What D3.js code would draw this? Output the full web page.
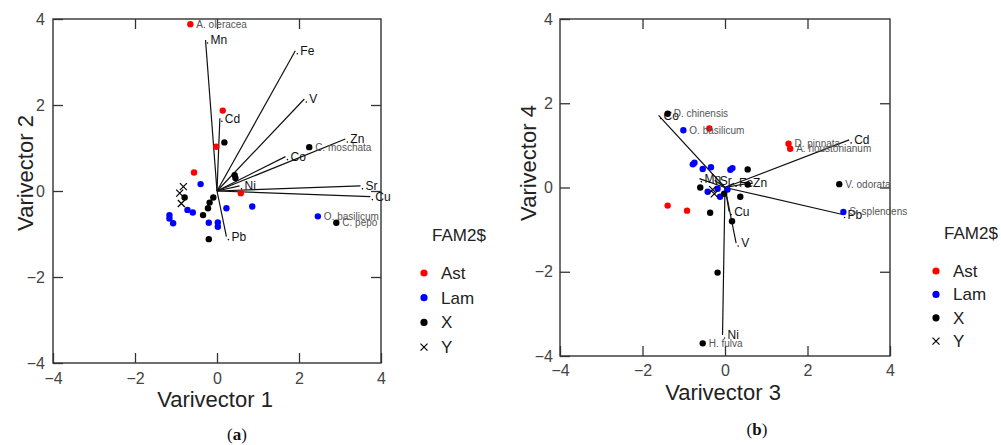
<!DOCTYPE html>
<html lang="en">
<head>
<meta charset="UTF-8">
<title>Varivector biplots</title>
<script src="https://d3js.org/d3.v7.min.js"></script>
<style>
  body { margin: 0; background: #fff; }
  svg { display: block; font-family: "Liberation Sans", Arial, sans-serif; }
  .tick text { font-size: 16px; fill: #444; }
  .tick line { stroke: #333; stroke-width: 1.3px; }
  .frame { fill: none; stroke: #333; stroke-width: 1.4px; }
  .vec { stroke: #111; stroke-width: 1.2px; }
  .vlabel { font-size: 12px; fill: #111; }
  .plabel { font-size: 10px; fill: #555; }
  .title { font-size: 22px; fill: #222; }
  .legend text { font-size: 17px; fill: #222; }
</style>
</head>
<body>
<svg width="1001" height="445"></svg>
<script>
const tickValues = [-4, -2, 0, 2, 4];
const innerTicks = [-2, 0, 2];
const groups = ["Ast", "Lam", "X", "Y"];
const groupColors = ["#ff0000", "#0000ff", "#000000", "#000000"];
const elements = ["Mn", "Fe", "V", "Zn", "Co", "Sr", "Cu", "Cd", "Ni", "Pb"];

// panel (a): varivector 1 / 2 loadings
const vv1 = [-0.28, 1.91, 2.13, 3.13, 1.67, 3.50, 3.74, 0.07, 0.55, 0.23];
const vv2 = [3.51, 3.26, 2.14, 1.21, 0.80, 0.12, -0.13, 1.69, 0.12, -1.06];

// panel (a) scores: [x, y, label]
const astA = [[-0.65, 3.88, "A. oleracea"], [0.14, 1.87], [-0.02, 1.03], [-0.56, 0.43], [0.58, -0.05]];
const lamA = [[-0.40, 0.16], [0.23, -0.40], [0.86, -0.36], [-0.72, -0.44], [-0.59, -0.50],
  [-1.16, -0.56], [-1.16, -0.64], [-1.07, -0.75], [-0.20, -0.74], [0.02, -0.73],
  [0.02, -0.83], [2.46, -0.59, "O. basilicum"]];
const xA = [[0.18, 1.13], [2.25, 1.02, "C. moschata"], [0.43, 0.37], [0.45, 0.30], [-0.79, -0.15],
  [-0.09, -0.15], [-0.18, -0.27], [-0.22, -0.40], [-0.34, -0.56], [-0.20, -1.12],
  [2.91, -0.74, "C. pepo"]];
const yA = [[-0.82, 0.10], [-0.91, -0.05], [-0.87, -0.29]];

// panel (b): varivector 3 / 4 loadings
const vv3 = [-0.62, 0.22, 0.27, 0.56, -1.61, -0.25, 0.10, 3.01, -0.06, 2.85];
const vv4 = [0.21, 0.10, -1.32, 0.10, 1.71, 0.17, -0.57, 1.13, -3.50, -0.64];

const astB = [[-0.38, 1.40], [1.54, 1.04, "D. pinnata"], [1.58, 0.92, "A. houstonianum"],
  [-1.39, -0.43], [-0.92, -0.55]];
const lamB = [[-1.01, 1.36, "O. basilicum"], [-0.78, 0.55], [-0.74, 0.59], [-0.54, 0.44],
  [-0.34, 0.48], [0.13, 0.42], [0.18, 0.46], [-0.42, -0.10], [-0.18, -0.03], [0.06, -0.05],
  [-0.12, -0.22], [2.87, -0.58, "S. splendens"]];
const xB = [[-1.39, 1.75, "D. chinensis"], [0.55, 0.43], [2.77, 0.08, "V. odorata"], [0.55, 0.07],
  [-0.60, 0.00], [-0.02, -0.15], [0.37, -0.22], [-0.36, -0.60], [0.17, -0.80], [-0.18, -2.02],
  [-0.54, -3.70, "H. fulva"]];
const yB = [[-0.30, -0.05], [-0.26, -0.15]];

const svg = d3.select("svg");

function cross(sel, s) {
  sel.append("path")
    .attr("d", `M${-s},${-s}L${s},${s}M${-s},${s}L${s},${-s}`)
    .attr("stroke", "#000").attr("stroke-width", 1.2).attr("fill", "none");
}

function drawPanel(p) {
  const x = d3.scaleLinear().domain([-4, 4]).range(p.xr);
  const y = d3.scaleLinear().domain([-4, 4]).range(p.yr);
  const g = svg.append("g");
  const noDomain = a => a.select(".domain").remove();

  g.append("g").attr("transform", `translate(0,${p.yr[0]})`)
    .call(d3.axisBottom(x).tickValues(tickValues).tickSizeInner(-10).tickSizeOuter(0).tickPadding(p.xPad))
    .call(noDomain);
  g.append("g").attr("transform", `translate(${p.xr[0]},0)`)
    .call(d3.axisLeft(y).tickValues(tickValues).tickSizeInner(-10).tickSizeOuter(0).tickPadding(p.yPad))
    .call(noDomain);
  g.append("g").attr("transform", `translate(0,${p.yr[1]})`)
    .call(d3.axisTop(x).tickValues(innerTicks).tickSizeInner(-10).tickSizeOuter(0).tickFormat(""))
    .call(noDomain);
  g.append("g").attr("transform", `translate(${p.xr[1]},0)`)
    .call(d3.axisRight(y).tickValues(innerTicks).tickSizeInner(-10).tickSizeOuter(0).tickFormat(""))
    .call(noDomain);
  g.selectAll(".tick text").attr("font-family", null).attr("font-size", null).attr("fill", null);

  g.append("rect").attr("class", "frame")
    .attr("x", p.xr[0]).attr("y", p.yr[1])
    .attr("width", p.xr[1] - p.xr[0]).attr("height", p.yr[0] - p.yr[1]);

  // loading vectors
  const vecs = elements.map((e, i) => ({ name: e, vx: p.vx[i], vy: p.vy[i] }));
  g.selectAll(".vec").data(vecs).enter().append("line")
    .attr("class", "vec")
    .attr("x1", x(0)).attr("y1", y(0))
    .attr("x2", d => x(d.vx)).attr("y2", d => y(d.vy));
  g.selectAll(".vdot").data(vecs).enter().append("circle")
    .attr("cx", d => x(d.vx) + 2).attr("cy", d => y(d.vy) + 3).attr("r", 0.8).attr("fill", "#111");
  g.selectAll(".vlabel").data(vecs).enter().append("text")
    .attr("class", "vlabel")
    .attr("x", d => x(d.vx) + 5).attr("y", d => y(d.vy)).attr("dy", "0.35em")
    .text(d => d.name);

  // scores
  p.points.forEach((pts, gi) => {
    if (groups[gi] === "Y") {
      pts.forEach(d => {
        g.append("g").attr("transform", `translate(${x(d[0])},${y(d[1])})`).call(cross, 3.5);
      });
    } else {
      g.selectAll(null).data(pts).enter().append("circle")
        .attr("cx", d => x(d[0])).attr("cy", d => y(d[1])).attr("r", 3.2)
        .attr("fill", groupColors[gi]);
    }
    g.selectAll(null).data(pts.filter(d => d[2])).enter().append("text")
      .attr("class", "plabel")
      .attr("x", d => x(d[0]) + 6).attr("y", d => y(d[1])).attr("dy", "0.35em")
      .text(d => d[2]);
  });

  // axis titles
  g.append("text").attr("class", "title").attr("text-anchor", "middle")
    .attr("x", x(0) - 2).attr("y", p.xTitleY).text(p.xTitle);
  g.append("text").attr("class", "title").attr("text-anchor", "middle")
    .attr("transform", `translate(${p.yTitleX},${p.yTitleMid}) rotate(-90)`).text(p.yTitle);

  // panel tag
  const tag = g.append("text").attr("text-anchor", "middle")
    .attr("x", p.tagX).attr("y", p.tagY)
    .attr("font-family", "'Liberation Serif', serif").attr("font-size", 17).attr("fill", "#111");
  tag.append("tspan").text("(");
  tag.append("tspan").attr("font-weight", "bold").text(p.tag);
  tag.append("tspan").text(")");

  // legend
  const lg = g.append("g").attr("class", "legend").attr("transform", `translate(${p.lx},${p.ly})`);
  lg.append("text").attr("x", 8).attr("y", 0).attr("dy", "0.35em").attr("font-size", 16).text("FAM2$");
  groups.forEach((name, i) => {
    const row = lg.append("g").attr("transform", `translate(0,${38 + i * p.lstep})`);
    if (name === "Y") row.call(cross, 3.5);
    else row.append("circle").attr("r", 3.6).attr("fill", groupColors[i]);
    row.append("text").attr("x", 17).attr("dy", "0.35em").text(name);
  });
}

drawPanel({
  xr: [53, 381], yr: [363, 19], xPad: 10, yPad: 8,
  vx: vv1, vy: vv2, points: [astA, lamA, xA, yA],
  xTitle: "Varivector 1", xTitleY: 407, yTitle: "Varivector 2", yTitleX: 33, yTitleMid: 173,
  tag: "a", tagX: 237, tagY: 440,
  lx: 424, ly: 235, lstep: 24.7
});

drawPanel({
  xr: [560, 890], yr: [356, 19], xPad: 9, yPad: 7,
  vx: vv3, vy: vv4, points: [astB, lamB, xB, yB],
  xTitle: "Varivector 3", xTitleY: 400, yTitle: "Varivector 4", yTitleX: 536, yTitleMid: 163,
  tag: "b", tagX: 757, tagY: 435,
  lx: 936, ly: 233, lstep: 23.4
});
</script>
</body>
</html>
